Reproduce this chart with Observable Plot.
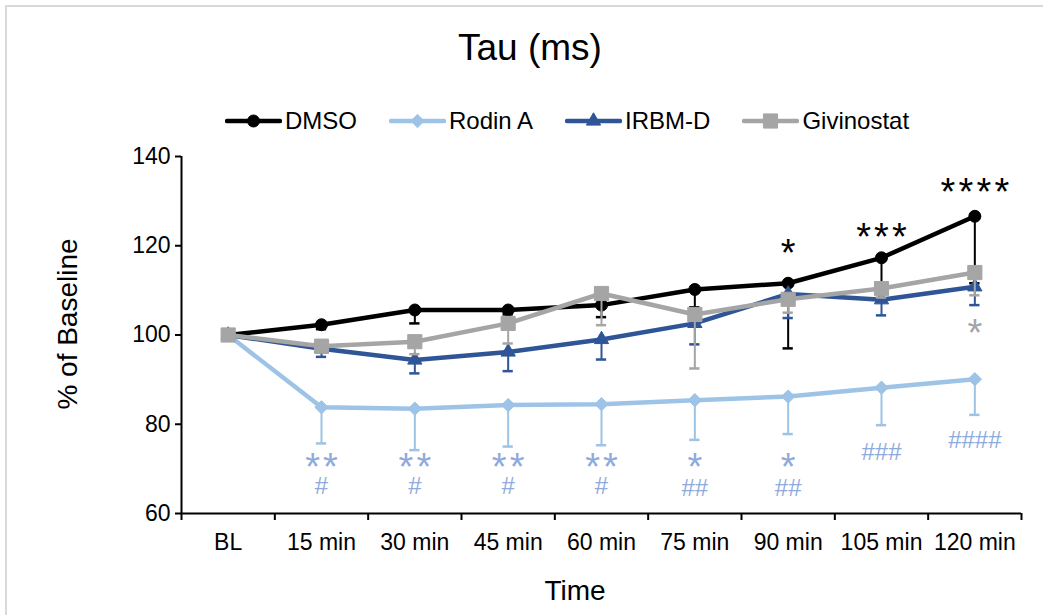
<!DOCTYPE html>
<html>
<head>
<meta charset="utf-8">
<script src="https://cdn.jsdelivr.net/npm/d3@7"></script>
<script src="https://cdn.jsdelivr.net/npm/@observablehq/plot@0.6"></script>
<style>
  body { margin: 0; background: #fff; font-family: "Liberation Sans", Arial, sans-serif; }
  #wrap { position: relative; width: 1043px; height: 615px; overflow: hidden; background: #fff; }
  #frame { position: absolute; left: 5px; top: 5px; width: 1100px; height: 700px; border: 2px solid #d9d9d9; box-sizing: border-box; }
  #chart { position: absolute; left: 0; top: 0; }
  #title { position: absolute; left: 330px; width: 400px; top: 29px; text-align: center; font-size: 37px; line-height: 37px; color: #000; }
  #legend { position: absolute; left: 225px; top: 109px; display: flex; align-items: center; gap: 32px; height: 24px; }
  .item { display: flex; align-items: center; height: 24px; }
  .item span { margin-left: 3px; font-size: 24px; line-height: 24px; color: #000; }
  #xlabel { position: absolute; left: 475px; width: 200px; top: 577px; text-align: center; font-size: 28px; line-height: 28px; }
  #ylabel { position: absolute; left: -82px; width: 300px; top: 310px; height: 28px; text-align: center; font-size: 28px; line-height: 28px; transform: rotate(-90deg); }
</style>
</head>
<body>
<div id="wrap">
  <div id="frame"></div>
  <div id="chart"></div>
  <div id="title">Tau (ms)</div>
  <div id="legend"></div>
  <div id="xlabel">Time</div>
  <div id="ylabel">% of Baseline</div>
</div>
<script>
// ---- data ----
const categories = ["BL", "15 min", "30 min", "45 min", "60 min", "75 min", "90 min", "105 min", "120 min"];
const seriesNames = ["DMSO", "Rodin A", "IRBM-D", "Givinostat"];

const dmso       = [100, 102.3, 105.6, 105.6, 106.7, 110.2, 111.6, 117.3, 126.6];
const dmsoErr    = [0,   1.0,   3.0,   1.0,   2.7,   4.0,   14.6,  8.0,   15.0];
const rodinA     = [100, 83.8,  83.5,  84.3,  84.5,  85.4,  86.2,  88.2,  90.1];
const rodinAErr  = [0,   8.1,   9.3,   9.3,   9.2,   8.9,   8.4,   8.4,   8.0];
const irbmD      = [100, 96.9,  94.4,  96.2,  99.0,  102.6, 109.2, 107.9, 110.8];
const irbmDErr   = [0,   1.8,   3.0,   4.3,   4.5,   4.7,   5.4,   3.5,   4.1];
const givinostat = [100, 97.5,  98.5,  102.6, 109.3, 104.6, 108.0, 110.4, 114.0];
const givinostatErr = [0, 1.0,  2.8,   4.5,   7.1,   12.1,  3.0,   2.0,   5.1];

const yTicks = [60, 80, 100, 120, 140];

// significance annotations: category index, label, level (% of baseline, top of label), series
const annotIndex = [6, 7, 8, 8, 1, 2, 3, 4, 5, 6, 1, 2, 3, 4, 5, 6, 7, 8];
const annotText  = ["*", "***", "****", "*", "**", "**", "**", "**", "*", "*", "#", "#", "#", "#", "##", "##", "###", "####"];
const annotLevel = [121.4, 125.1, 135.1, 103.5, 73.6, 73.6, 73.6, 73.6, 73.6, 73.6, 68.3, 68.3, 68.3, 68.3, 67.7, 67.7, 75.8, 78.6];
const annotSeries = ["DMSO", "DMSO", "DMSO", "Givinostat", "Rodin A", "Rodin A", "Rodin A", "Rodin A", "Rodin A", "Rodin A",
                     "Rodin A", "Rodin A", "Rodin A", "Rodin A", "Rodin A", "Rodin A", "Rodin A", "Rodin A"];

// ---- styles ----
const colors = {"DMSO": "#000000", "Rodin A": "#9DC3E6", "IRBM-D": "#2F5597", "Givinostat": "#A5A5A5"};
const annotColors = {"DMSO": "#000000", "Rodin A": "#8FAADC", "Givinostat": "#A5A5A5"};
const symbols = {"DMSO": "circle", "Rodin A": "diamond2", "IRBM-D": "triangle", "Givinostat": "square"};
const radii = {"DMSO": 6, "Rodin A": 6, "IRBM-D": 5.3, "Givinostat": 8};

const values = [dmso, rodinA, irbmD, givinostat];
const errors = [dmsoErr, rodinAErr, irbmDErr, givinostatErr];

const capHalf = 0.055;
const marks = [];

seriesNames.forEach((name, s) => {
  const rows = categories.map((c, i) => ({i, v: values[s][i], err: errors[s][i]}));
  const errRows = rows.filter(d => d.err > 0);
  const col = colors[name];
  marks.push(Plot.ruleX(errRows, {x: "i", y1: "v", y2: d => d.v - d.err, stroke: col, strokeWidth: 2}));
  marks.push(Plot.ruleY(errRows, {y: d => d.v - d.err, x1: d => d.i - capHalf, x2: d => d.i + capHalf, stroke: col, strokeWidth: 2.5}));
  marks.push(Plot.line(rows, {x: "i", y: "v", stroke: col, strokeWidth: 4.5, strokeLinejoin: "round", strokeLinecap: "round"}));
  marks.push(Plot.dot(rows, {x: "i", y: "v", symbol: symbols[name], r: radii[name], fill: col, stroke: col, strokeWidth: 1}));
});

const annots = annotIndex.map((i, k) => ({i, text: annotText[k], y: annotLevel[k], color: annotColors[annotSeries[k]]}));
const stars = annots.filter(d => d.text.startsWith("*")).map(d => ({...d, text: d.text.split("").join("\u200A")}));
const hashes = annots.filter(d => d.text.startsWith("#"));

const chart = Plot.plot({
  width: 1043,
  height: 615,
  marginLeft: 181,
  marginRight: 22,
  marginTop: 156,
  marginBottom: 102,
  style: {fontFamily: "'Liberation Sans', Arial, sans-serif", background: "transparent", color: "#000"},
  x: {domain: [-0.5, categories.length - 0.5]},
  y: {domain: [60, 140]},
  marks: [
    Plot.axisY({ticks: yTicks, tickSize: 6, tickPadding: 5, fontSize: 23, label: null, strokeWidth: 2}),
    Plot.axisX({ticks: d3.range(categories.length + 1).map(k => k - 0.5), tickSize: 7, tickFormat: () => "", label: null, strokeWidth: 2}),
    Plot.axisX({ticks: d3.range(categories.length), tickSize: 0, tickPadding: 20, tickFormat: i => categories[i], fontSize: 23, label: null}),
    ...marks,
    Plot.ruleX([-0.5], {stroke: "#000", strokeWidth: 2}),
    Plot.ruleY([60], {stroke: "#000", strokeWidth: 2}),
    Plot.text(stars, {x: "i", y: "y", text: "text", fill: "color", fontSize: 38, lineAnchor: "top"}),
    Plot.text(hashes, {x: "i", y: "y", text: "text", fill: "color", fontSize: 24, lineAnchor: "top"})
  ]
});
document.getElementById("chart").appendChild(chart);

// ---- legend ----
const legend = document.getElementById("legend");
seriesNames.forEach(name => {
  const item = document.createElement("div");
  item.className = "item";
  const svg = d3.create("svg").attr("width", 57).attr("height", 24);
  svg.append("line").attr("x1", 2).attr("x2", 55).attr("y1", 12).attr("y2", 12)
    .attr("stroke", colors[name]).attr("stroke-width", 4.5).attr("stroke-linecap", "round");
  const r = radii[name];
  const sym = {circle: d3.symbolCircle, diamond2: d3.symbolDiamond2, triangle: d3.symbolTriangle, square: d3.symbolSquare}[symbols[name]];
  svg.append("path").attr("transform", "translate(28.5,12)")
    .attr("d", d3.symbol(sym, r * r * Math.PI)())
    .attr("fill", colors[name]).attr("stroke", colors[name]).attr("stroke-width", 1);
  item.appendChild(svg.node());
  const span = document.createElement("span");
  span.textContent = name;
  item.appendChild(span);
  legend.appendChild(item);
});
</script>
</body>
</html>
